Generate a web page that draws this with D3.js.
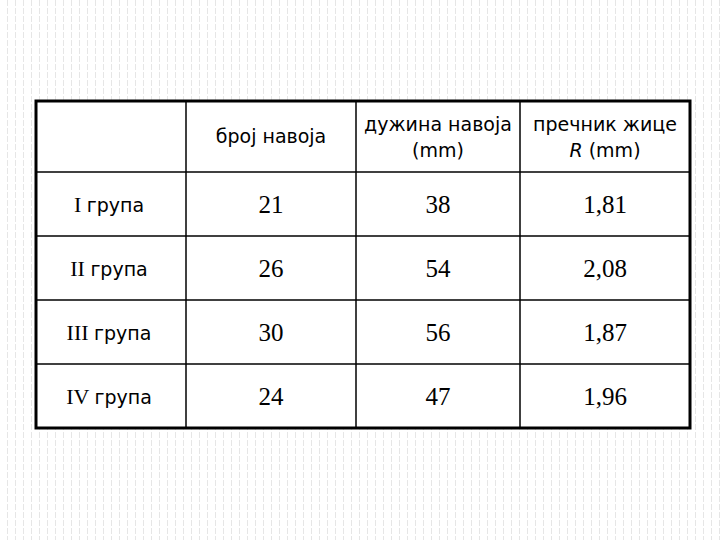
<!DOCTYPE html><html><head><meta charset="utf-8"><script src="https://cdn.jsdelivr.net/npm/d3@7"></script>
<style>body{margin:0;background:#fff}</style></head><body><script>
const rowLabels=["I","II","III","IV"];
const colHeaders=[["број навоја"],["дужина навоја","(mm)"],["пречник жице","R (mm)"]];
const brojNavoja=["21","26","30","24"];
const duzinaNavoja=["38","54","56","47"];
const precnikZice=["1,81","2,08","1,87","1,96"];
const W=720,H=540;
const svg=d3.select("body").append("svg").attr("width",W).attr("height",H);
svg.append("g").selectAll("line").data(d3.range(7,W,8)).join("line")
 .attr("x1",d=>d+0.5).attr("x2",d=>d+0.5).attr("y1",0).attr("y2",H)
 .attr("stroke","#e6e6e6").attr("stroke-dasharray","6,2");
const xs=[36,186,356,520,690], ys=[101,172,236,300,364,428];
svg.append("rect").attr("x",xs[0]).attr("y",ys[0]).attr("width",xs[4]-xs[0]).attr("height",ys[5]-ys[0]).attr("fill","#fff");
const g=svg.append("g").attr("stroke","#000");
xs.slice(1,4).forEach(x=>g.append("line").attr("x1",x).attr("x2",x).attr("y1",ys[0]).attr("y2",ys[5]).attr("stroke-width",1.5));
ys.slice(1,5).forEach(y=>g.append("line").attr("x1",xs[0]).attr("x2",xs[4]).attr("y1",y).attr("y2",y).attr("stroke-width",1.5));
g.append("rect").attr("x",xs[0]).attr("y",ys[0]).attr("width",xs[4]-xs[0]).attr("height",ys[5]-ys[0]).attr("fill","none").attr("stroke-width",3);
const sans="DejaVu Sans", serif="Liberation Serif";
colHeaders.forEach((lines,i)=>{
 const cx=(xs[i+1]+xs[i+2])/2;
 const t=svg.append("text").attr("text-anchor","middle").attr("font-family",sans).attr("font-size",19);
 lines.forEach((l,j)=>{
  const y=lines.length===1?143:131+j*26;
  const ts=t.append("tspan").attr("x",cx).attr("y",y);
  if(l.startsWith("R ")){ts.append("tspan").attr("font-style","italic").text("R");ts.append("tspan").text(l.slice(1));}
  else ts.text(l);
 });
});
const cols=[brojNavoja,duzinaNavoja,precnikZice];
rowLabels.forEach((r,i)=>{
 const cy=(ys[i+1]+ys[i+2])/2+9;
 const t=svg.append("text").attr("x",(xs[0]+xs[1])/2-2).attr("y",cy-1).attr("text-anchor","middle");
 t.append("tspan").attr("font-family",serif).attr("font-size",22).text(r+" ");
 t.append("tspan").attr("font-family",sans).attr("font-size",19).text("група");
 cols.forEach((c,j)=>svg.append("text").attr("x",(xs[j+1]+xs[j+2])/2).attr("y",cy).attr("text-anchor","middle")
  .attr("font-family",serif).attr("font-size",25).text(c[i]));
});
</script></body></html>
